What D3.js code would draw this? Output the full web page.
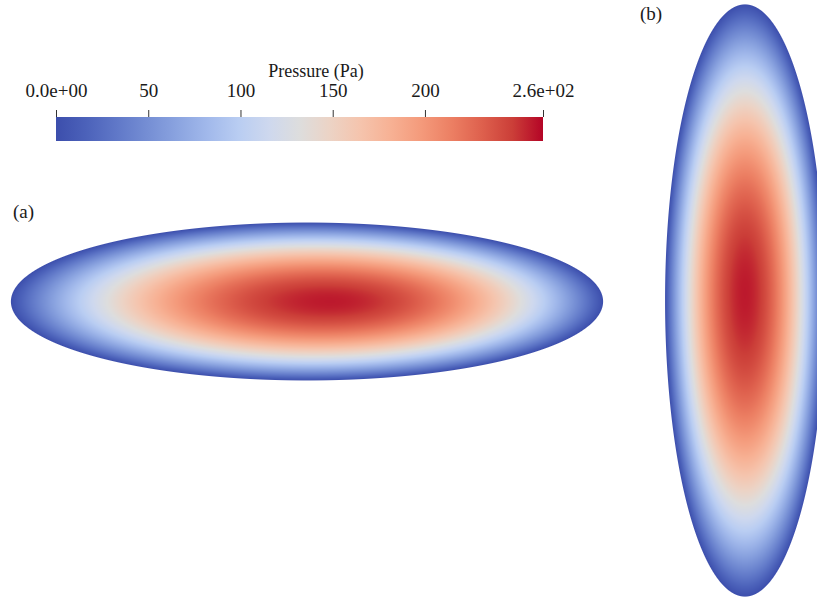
<!DOCTYPE html>
<html>
<head>
<meta charset="utf-8">
<script src="https://cdn.jsdelivr.net/npm/d3@7"></script>
<style>
  body { margin: 0; background: #fff; }
  svg { display: block; }
  text { font-family: "Liberation Serif", "DejaVu Serif", serif; fill: #1a1a1a; }
</style>
</head>
<body>
<div id="chart"></div>
<script>
// Colour bar
const pressureDomain = [0, 264];
const tickValues = [0, 50, 100, 150, 200, 264];
const tickLabels = ["0.0e+00", "50", "100", "150", "200", "2.6e+02"];
const colorbarTitle = "Pressure (Pa)";

// Cool to warm colour map, sampled at 1/16 steps (position 0..1)
const cmapPos = d3.range(17).map(i => i / 16);
const cmapColors = [
  "rgb(60,78,172)", "rgb(76,98,186)", "rgb(96,120,200)", "rgb(117,142,212)",
  "rgb(139,164,224)", "rgb(162,185,235)", "rgb(185,205,242)", "rgb(206,216,238)",
  "rgb(221,221,221)", "rgb(236,211,197)", "rgb(245,196,173)", "rgb(247,177,148)",
  "rgb(244,154,123)", "rgb(236,127,99)", "rgb(222,96,77)", "rgb(203,62,56)",
  "rgb(180,4,38)"
];

// Contact patches, in mm: semi-axes and location of the pressure peak
const patchNames = ["(a)", "(b)"];
const semiAxisX = [3.0, 0.81];
const semiAxisY = [0.80, 3.0];
const peakX = [0.24, 0.0];
const peakY = [0.0, 0.076];
const peakPressure = [258, 258];

let width = 817, height = 597;
let pxPerMm = 98.7;
let centres = [[307, 301.5], [745, 300.5]];
let labelPos = [[13, 218], [640, 20]];

let svg = d3.select("#chart").append("svg")
  .attr("width", width)
  .attr("height", height);

let cmapT = d3.scaleLinear().domain(cmapPos).range(cmapColors).interpolate(d3.interpolateRgb).clamp(true);
let pressureToT = d3.scaleLinear().domain(pressureDomain).range([0, 1]).clamp(true);
let color = p => cmapT(pressureToT(p));

// Pressure fields drawn into a canvas, then placed in the svg
let canvas = d3.create("canvas").attr("width", width).attr("height", height).node();
let ctx = canvas.getContext("2d");
let img = ctx.createImageData(width, height);

patchNames.forEach((name, k) => {
  let a = semiAxisX[k], b = semiAxisY[k];
  let cx = centres[k][0], cy = centres[k][1];
  let x = d3.scaleLinear().domain([-a, a]).range([cx - a * pxPerMm, cx + a * pxPerMm]);
  let y = d3.scaleLinear().domain([-b, b]).range([cy + b * pxPerMm, cy - b * pxPerMm]);
  let u0 = peakX[k], v0 = peakY[k];
  let x0 = Math.max(0, Math.floor(x(-a)) - 1), x1 = Math.min(width, Math.ceil(x(a)) + 1);
  let y0 = Math.max(0, Math.floor(y(b)) - 1), y1 = Math.min(height, Math.ceil(y(-b)) + 1);

  for (let py = y0; py < y1; py++) {
    for (let px = x0; px < x1; px++) {
      let u = x.invert(px + 0.5), v = y.invert(py + 0.5);
      let rho = Math.sqrt((u / a) ** 2 + (v / b) ** 2);
      // approximate distance to edge in px for a soft border
      let gx = u / (a * a), gy = v / (b * b);
      let grad = Math.sqrt(gx * gx + gy * gy) / Math.max(rho, 1e-9) / pxPerMm;
      let dist = (1 - rho) / grad;
      let alpha = Math.max(0, Math.min(1, dist + 0.5));
      if (alpha <= 0) continue;

      // normalised radius measured along the ray from the peak to the rim
      let du = u - u0, dv = v - v0;
      let A = (du / a) ** 2 + (dv / b) ** 2;
      let r = 0;
      if (A > 1e-12) {
        let B = 2 * (u0 * du / (a * a) + v0 * dv / (b * b));
        let C = (u0 / a) ** 2 + (v0 / b) ** 2 - 1;
        let s = (-B + Math.sqrt(B * B - 4 * A * C)) / (2 * A);
        r = Math.min(1, 1 / s);
      }
      let p = peakPressure[k] * (1 - r * r);
      let c = d3.rgb(color(p));
      let i = (py * width + px) * 4;
      img.data[i] = c.r;
      img.data[i + 1] = c.g;
      img.data[i + 2] = c.b;
      img.data[i + 3] = Math.round(alpha * 255);
    }
  }
});
ctx.putImageData(img, 0, 0);

svg.append("image")
  .attr("x", 0)
  .attr("y", 0)
  .attr("width", width)
  .attr("height", height)
  .attr("href", canvas.toDataURL());

// Patch labels
svg.selectAll(".patch-label")
  .data(patchNames)
  .enter()
  .append("text")
  .attr("class", "patch-label")
  .attr("x", (d, i) => labelPos[i][0])
  .attr("y", (d, i) => labelPos[i][1])
  .style("font-size", "19px")
  .text(d => d);

// Colour bar
let bar = { x0: 56, x1: 543, top: 117, h: 24 };
let barScale = d3.scaleLinear().domain(pressureDomain).range([bar.x0, bar.x1]);

let grad = svg.append("defs").append("linearGradient")
  .attr("id", "cbar")
  .attr("x1", "0%").attr("x2", "100%")
  .attr("y1", "0%").attr("y2", "0%");
grad.selectAll("stop")
  .data(cmapPos)
  .enter()
  .append("stop")
  .attr("offset", d => (d * 100) + "%")
  .attr("stop-color", (d, i) => cmapColors[i]);

svg.append("rect")
  .attr("x", barScale(pressureDomain[0]))
  .attr("y", bar.top)
  .attr("width", barScale(pressureDomain[1]) - barScale(pressureDomain[0]))
  .attr("height", bar.h)
  .style("fill", "url(#cbar)");

let barAxis = d3.axisTop(barScale)
  .tickValues(tickValues)
  .tickFormat((d, i) => tickLabels[i])
  .tickSize(7)
  .tickPadding(13);

let axisG = svg.append("g")
  .attr("transform", "translate(0," + bar.top + ")")
  .call(barAxis);
axisG.select(".domain").remove();
axisG.selectAll(".tick line").attr("stroke", "#333");
axisG.selectAll(".tick text")
  .style("font-family", '"Liberation Serif", serif')
  .style("font-size", "19px")
  .attr("fill", "#1a1a1a");

svg.append("text")
  .attr("x", 316)
  .attr("y", 77)
  .attr("text-anchor", "middle")
  .style("font-size", "18px")
  .text(colorbarTitle);
</script>
</body>
</html>
